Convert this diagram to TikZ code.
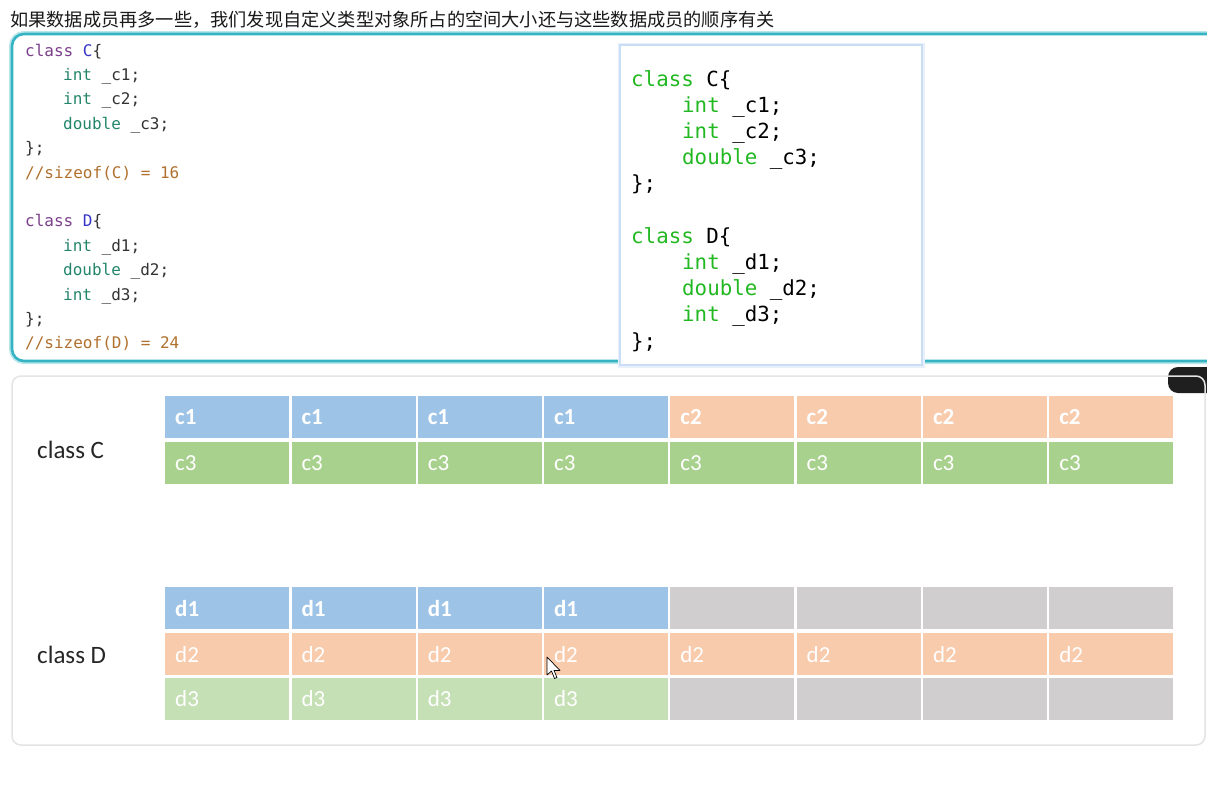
\documentclass[tikz,border=0pt]{standalone}
\usepackage{fontspec}
\newfontfamily\cjkfnt{Noto Sans CJK SC}
\newfontfamily\codefnt{DejaVu Sans Mono}
\newfontfamily\calfnt{Carlito}
\definecolor{tealbox}{HTML}{34B4C2}
\definecolor{innerb}{HTML}{C3DAF4}
\definecolor{lowb}{HTML}{E4E4E4}
\definecolor{kwp}{HTML}{7B3F8C}
\definecolor{clsb}{HTML}{3535C8}
\definecolor{typg}{HTML}{23866B}
\definecolor{cmto}{HTML}{B0702E}
\definecolor{codetxt}{HTML}{333333}
\definecolor{brg}{HTML}{22B822}
\definecolor{cblue}{HTML}{9DC3E6}
\definecolor{corange}{HTML}{F8CBAD}
\definecolor{cgreen}{HTML}{A9D18E}
\definecolor{clgreen}{HTML}{C5E0B4}
\definecolor{cgray}{HTML}{D0CECE}
\tikzset{
  cell/.style={anchor=north west, minimum width=124pt, minimum height=41.5pt,
    inner xsep=10pt, inner ysep=0pt, text width=104pt, align=left, text=white,
    font=\calfnt\fontsize{23}{23}\selectfont},
  bcell/.style={cell, font=\calfnt\bfseries\fontsize{23}{23}\selectfont},
  lcode/.style={anchor=base west, inner sep=0pt, text=codetxt, font=\codefnt\fontsize{16}{16}\selectfont},
  rcode/.style={anchor=base west, inner sep=0pt, text=black, font=\codefnt\fontsize{20.8}{20.8}\selectfont},
  clabel/.style={anchor=west, inner sep=0pt, text=black!85, font=\calfnt\fontsize{25}{25}\selectfont},
}
\begin{document}
\begin{tikzpicture}[x=1pt,y=-1pt]
\useasboundingbox (0,0) rectangle (1207,790);
\clip (0,0) rectangle (1207,790);
\fill[white] (0,0) rectangle (1207,790);
% title
\node[anchor=base west, inner sep=0pt, text=black!90, font=\cjkfnt\fontsize{18.2}{18.2}\selectfont] (title) at (10,26) {如果数据成员再多一些，我们发现自定义类型对象所占的空间大小还与这些数据成员的顺序有关};
% teal code box
\draw[tealbox!35, line width=6pt, rounded corners=12pt] (12,34) rectangle (1230,361);
\draw[tealbox, line width=2.6pt, rounded corners=12pt, fill=white] (12,34) rectangle (1230,361);
% left code
\node[lcode] (l1) at (25,56) {{\color{kwp}class} {\color{clsb}C}\{};
\node[lcode] (l2) at (63,80.4) {{\color{typg}int} \_c1;};
\node[lcode] (l3) at (63,104.8) {{\color{typg}int} \_c2;};
\node[lcode] (l4) at (63,129.2) {{\color{typg}double} \_c3;};
\node[lcode] (l5) at (25,153.6) {\};};
\node[lcode, text=cmto] (l6) at (25,178) {//sizeof(C) = 16};
\node[lcode] (l7) at (25,226.8) {{\color{kwp}class} {\color{clsb}D}\{};
\node[lcode] (l8) at (63,251.2) {{\color{typg}int} \_d1;};
\node[lcode] (l9) at (63,275.6) {{\color{typg}double} \_d2;};
\node[lcode] (l10) at (63,300) {{\color{typg}int} \_d3;};
\node[lcode] (l11) at (25,324.4) {\};};
\node[lcode, text=cmto] (l12) at (25,348.8) {//sizeof(D) = 24};
% inner box
\draw[innerb!40, line width=5pt] (620,45) rectangle (922,365);
\draw[innerb!90, line width=1.2pt, fill=white] (620,45) rectangle (922,365);
\node[rcode] (r1) at (631,86) {{\color{brg}class} C\{};
\node[rcode] (r2) at (682,112.2) {{\color{brg}int} \_c1;};
\node[rcode] (r3) at (682,138.4) {{\color{brg}int} \_c2;};
\node[rcode] (r4) at (682,164.6) {{\color{brg}double} \_c3;};
\node[rcode] (r5) at (631,190.8) {\};};
\node[rcode] (r6) at (631,243.2) {{\color{brg}class} D\{};
\node[rcode] (r7) at (682,269.4) {{\color{brg}int} \_d1;};
\node[rcode] (r8) at (682,295.6) {{\color{brg}double} \_d2;};
\node[rcode] (r9) at (682,321.8) {{\color{brg}int} \_d3;};
\node[rcode] (r10) at (631,348) {\};};
% dark tab
\fill[black!88, rounded corners=10pt] (1168,367) rectangle (1230,393);
% lower box
\draw[lowb, line width=1.5pt, rounded corners=9pt] (12,376) rectangle (1205,745);
\node[clabel] (labC) at (37,450) {class C};
\node[clabel] (labD) at (37,655) {class D};
% class C and D grids
\foreach \i in {0,...,7}{
  \pgfmathsetmacro\xx{165+126.3*\i}
  \ifnum\i<4
    \node[bcell, fill=cblue] (cA\i) at (\xx,396) {c1};
  \else
    \node[bcell, fill=corange] (cA\i) at (\xx,396) {c2};
  \fi
  \node[cell, fill=cgreen] (cB\i) at (\xx,442) {c3};
  \ifnum\i<4
    \node[bcell, fill=cblue, minimum height=42pt] (dA\i) at (\xx,587) {d1};
    \node[cell, fill=clgreen, minimum height=42pt] (dC\i) at (\xx,677.5) {d3};
  \else
    \node[cell, fill=cgray, minimum height=42pt] (dA\i) at (\xx,587) {};
    \node[cell, fill=cgray, minimum height=42pt] (dC\i) at (\xx,677.5) {};
  \fi
  \node[cell, fill=corange, minimum height=42pt] (dB\i) at (\xx,633) {d2};
}
% mouse cursor
\draw[black, fill=white, line width=0.7pt, line join=round]
  (547,657) -- (547,675) -- (551.5,671) -- (554.5,678.5) -- (557,677.5) -- (554,670.5) -- (560,670.5) -- cycle;
\end{tikzpicture}
\end{document}
